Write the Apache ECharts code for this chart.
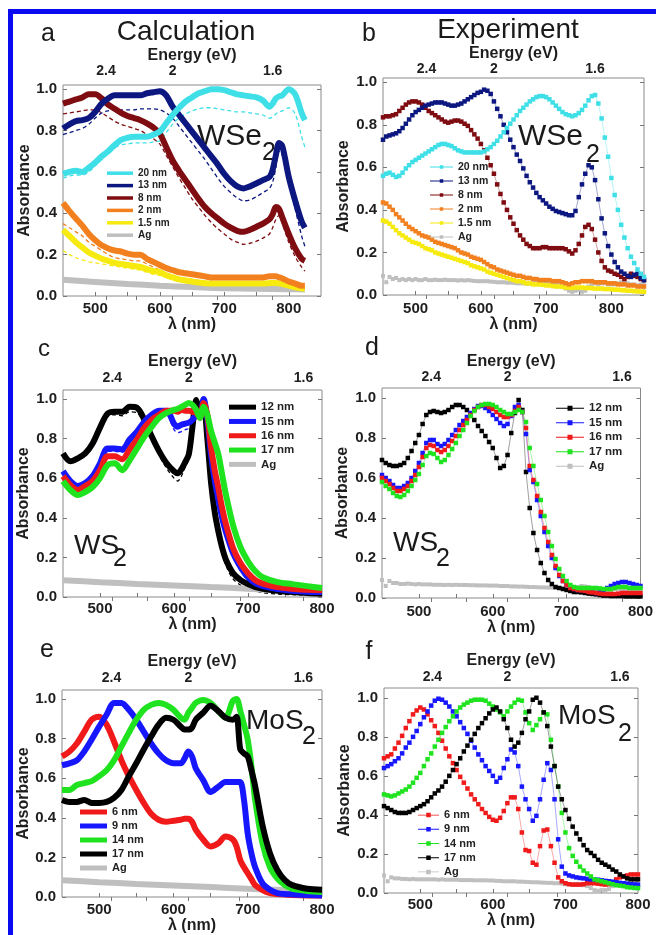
<!DOCTYPE html>
<html><head><meta charset="utf-8">
<script src="https://cdn.jsdelivr.net/npm/echarts@6/dist/echarts.min.js"></script>
<style>html,body{margin:0;padding:0;background:#fff}#c{width:656px;height:935px}</style>
</head><body><div id="c"></div>
<script>
// ---------- tick labels ----------
const yTicks = [0, 0.2, 0.4, 0.6, 0.8, 1.0];
const xTicksLabel = [500, 600, 700, 800];
const xTicksMinor = [550, 650, 750];
const energyTicks = [2.4, 2, 1.6];
const energyMinor = [2.2, 1.8];

// ---------- panel a (calculation, WSe2) ----------
const wlA = [450,460,470,480,490,500,510,520,530,540,550,560,570,580,590,600,610,620,630,640,650,660,670,680,690,700,710,720,730,740,750,760,770,775,780,785,790,800,810,820,825];
const a20 = [.59,.60,.605,.60,.62,.645,.675,.70,.73,.755,.765,.77,.77,.77,.78,.795,.835,.875,.91,.94,.96,.98,.99,1.0,1.0,.995,.985,.975,.97,.965,.96,.945,.915,.93,.955,.965,.97,1.0,.975,.885,.85];
const a20d = [.57,.58,.585,.585,.60,.63,.66,.69,.715,.73,.735,.74,.74,.74,.745,.75,.79,.83,.86,.88,.895,.905,.91,.91,.905,.90,.895,.89,.89,.885,.88,.875,.86,.865,.88,.89,.895,.91,.88,.77,.72];
const a13 = [.81,.83,.845,.85,.86,.89,.93,.955,.97,.97,.97,.97,.97,.98,.985,.99,.97,.915,.875,.835,.795,.755,.715,.675,.635,.59,.555,.53,.52,.53,.545,.56,.575,.61,.68,.74,.725,.575,.46,.36,.33];
const a13d = [.78,.79,.80,.81,.83,.86,.885,.895,.90,.90,.90,.90,.905,.905,.905,.90,.885,.86,.82,.78,.74,.70,.66,.615,.57,.53,.50,.475,.46,.465,.48,.50,.52,.55,.62,.70,.68,.55,.42,.29,.24];
const a8 = [.93,.94,.95,.96,.975,.975,.955,.925,.905,.885,.87,.86,.85,.835,.815,.785,.72,.655,.605,.56,.515,.47,.43,.40,.375,.35,.33,.315,.31,.32,.335,.35,.37,.395,.43,.42,.38,.30,.23,.18,.17];
const a8d = [.88,.885,.89,.895,.90,.90,.885,.865,.845,.83,.82,.81,.80,.78,.76,.735,.68,.625,.57,.52,.47,.43,.39,.355,.325,.30,.275,.26,.25,.255,.265,.28,.30,.33,.37,.39,.35,.26,.19,.14,.12];
const a2 = [.45,.41,.375,.34,.30,.27,.245,.23,.22,.215,.205,.20,.20,.18,.165,.15,.135,.125,.115,.11,.105,.10,.095,.09,.09,.09,.09,.09,.09,.09,.09,.09,.095,.095,.095,.09,.085,.07,.06,.05,.05];
const a2d = [.35,.33,.31,.29,.26,.24,.22,.20,.185,.18,.175,.17,.17,.155,.14,.125,.11,.10,.09,.085,.08,.075,.07,.07,.065,.065,.065,.065,.065,.065,.065,.065,.07,.07,.072,.07,.065,.055,.048,.04,.04];
const a15 = [.32,.29,.26,.235,.21,.195,.18,.17,.16,.155,.15,.145,.14,.13,.12,.115,.10,.09,.08,.075,.07,.065,.062,.06,.06,.06,.06,.06,.06,.06,.06,.06,.062,.063,.063,.062,.058,.05,.042,.037,.035];
const a15d = [.22,.20,.185,.175,.165,.16,.155,.15,.145,.14,.135,.13,.125,.115,.105,.10,.09,.08,.07,.065,.06,.055,.052,.05,.05,.05,.05,.05,.05,.05,.05,.05,.05,.052,.053,.052,.048,.04,.035,.03,.03];
const wlAgA = [450,500,550,600,650,700,750,800,825];
const aAg = [.078,.068,.058,.05,.043,.038,.035,.033,.032];

// ---------- panel b (experiment, WSe2) ----------
const wlB = [450,455,460,465,470,475,480,485,490,495,500,505,510,515,520,525,530,535,540,545,550,555,560,565,570,575,580,585,590,595,600,605,610,615,620,625,630,635,640,645,650,655,660,665,670,675,680,685,690,695,700,705,710,715,720,725,730,735,740,745,750,755,760,765,770,775,780,785,790,795,800,805,810,815,820,825,830,835,840,845,850];
const b20 = [.56,.57,.575,.565,.555,.56,.575,.595,.61,.625,.635,.645,.655,.665,.675,.685,.695,.705,.71,.71,.705,.70,.69,.68,.675,.67,.67,.67,.67,.67,.67,.675,.685,.695,.71,.725,.745,.765,.785,.805,.825,.845,.865,.88,.895,.91,.92,.93,.935,.935,.93,.92,.905,.89,.875,.86,.85,.845,.84,.845,.855,.87,.89,.915,.935,.94,.90,.83,.74,.65,.55,.47,.40,.33,.27,.22,.18,.15,.12,.10,.085];
const b13 = [.73,.745,.75,.755,.76,.77,.785,.805,.825,.845,.86,.87,.88,.89,.895,.90,.905,.905,.905,.90,.895,.89,.89,.895,.90,.91,.92,.93,.94,.95,.955,.965,.96,.945,.91,.875,.84,.80,.765,.73,.695,.66,.63,.595,.56,.53,.505,.48,.46,.445,.43,.415,.405,.395,.39,.385,.38,.375,.375,.395,.46,.52,.57,.61,.60,.54,.45,.36,.29,.23,.19,.155,.13,.11,.10,.09,.085,.095,.10,.08,.07];
const b8 = [.835,.84,.84,.845,.85,.865,.88,.895,.905,.91,.91,.905,.895,.88,.865,.855,.845,.835,.825,.815,.81,.815,.82,.82,.815,.805,.795,.775,.755,.735,.71,.68,.645,.61,.57,.52,.475,.435,.40,.365,.335,.305,.28,.26,.24,.23,.22,.22,.22,.225,.225,.22,.22,.22,.22,.22,.215,.205,.195,.21,.24,.28,.32,.33,.31,.26,.20,.16,.13,.115,.11,.10,.095,.085,.075,.085,.10,.09,.085,.075,.07];
const b2 = [.435,.43,.415,.40,.38,.365,.35,.335,.32,.31,.30,.29,.28,.275,.27,.26,.25,.245,.24,.235,.23,.225,.22,.21,.20,.195,.19,.18,.175,.17,.165,.155,.145,.135,.13,.12,.115,.11,.105,.10,.095,.09,.09,.085,.08,.08,.075,.075,.07,.07,.07,.07,.065,.065,.065,.06,.055,.05,.055,.06,.06,.065,.065,.065,.065,.06,.06,.06,.06,.055,.055,.055,.05,.05,.05,.045,.045,.045,.04,.04,.04];
const b15 = [.35,.345,.335,.32,.305,.29,.28,.27,.26,.25,.245,.24,.23,.22,.215,.21,.20,.195,.19,.185,.18,.175,.17,.165,.16,.155,.15,.14,.135,.13,.125,.12,.11,.105,.10,.095,.09,.085,.08,.075,.07,.065,.065,.06,.055,.055,.05,.05,.05,.048,.045,.045,.042,.04,.04,.038,.035,.035,.033,.035,.035,.035,.033,.033,.032,.03,.03,.03,.028,.028,.027,.025,.025,.023,.022,.02,.02,.018,.017,.016,.015];
const bAg = [.09,.06,.085,.075,.08,.07,.075,.07,.075,.07,.075,.07,.07,.075,.07,.07,.072,.07,.07,.072,.07,.07,.07,.068,.07,.068,.07,.068,.066,.065,.065,.065,.065,.063,.062,.06,.06,.06,.058,.058,.057,.055,.055,.055,.053,.053,.055,.06,.058,.06,.062,.06,.058,.055,.05,.04,.03,.02,.015,.02,.025,.015,.02,.04,.05,.055,.05,.055,.055,.05,.05,.05,.055,.06,.06,.055,.05,.05,.045,.05,.045];

// ---------- panel c (calculation, WS2) ----------
const wlC = [450,460,470,480,490,500,510,520,530,540,550,560,570,580,590,600,605,610,615,620,625,630,635,640,645,650,655,660,665,670,680,690,700,710,720,740,760,780,800];
const c12 = [.725,.685,.70,.725,.775,.855,.925,.935,.935,.96,.955,.895,.81,.735,.675,.635,.625,.645,.68,.72,.86,.995,.945,.96,.80,.58,.43,.33,.25,.19,.12,.085,.065,.05,.042,.032,.025,.02,.017];
const c12d = [.71,.675,.69,.715,.765,.845,.91,.92,.915,.935,.93,.87,.79,.715,.65,.60,.585,.61,.655,.70,.84,.97,.93,.94,.78,.56,.40,.30,.22,.16,.09,.06,.04,.03,.022,.015,.012,.01,.01];
const c15 = [.635,.585,.56,.575,.61,.675,.75,.75,.745,.795,.835,.885,.92,.94,.94,.875,.86,.87,.875,.88,.895,.92,.91,1.0,.90,.72,.59,.49,.40,.33,.22,.15,.10,.07,.055,.04,.032,.027,.025];
const c15d = [.62,.575,.55,.565,.60,.665,.735,.735,.73,.78,.82,.865,.90,.92,.92,.845,.83,.835,.845,.85,.87,.90,.89,.98,.88,.70,.57,.47,.38,.31,.20,.13,.08,.05,.035,.022,.016,.012,.01];
const c16 = [.61,.565,.54,.56,.585,.64,.71,.71,.695,.745,.795,.855,.895,.92,.94,.94,.935,.945,.94,.94,.935,.93,.905,.98,.92,.76,.64,.55,.45,.37,.245,.17,.12,.085,.068,.05,.042,.036,.034];
const c17 = [.585,.54,.515,.53,.555,.60,.665,.675,.64,.69,.75,.81,.86,.905,.93,.945,.95,.96,.97,.98,.97,.945,.905,.96,.92,.84,.78,.72,.62,.52,.36,.25,.18,.13,.10,.075,.065,.055,.045];
const wlAgC = [450,500,550,600,650,700,750,800];
const cAg = [.085,.075,.066,.058,.05,.042,.032,.024];

// ---------- panels d, f (experiment) ----------
const wlDF = [450,455,460,465,470,475,480,485,490,495,500,505,510,515,520,525,530,535,540,545,550,555,560,565,570,575,580,585,590,595,600,605,610,615,620,625,630,635,640,645,650,655,660,665,670,675,680,685,690,695,700,705,710,715,720,725,730,735,740,745,750,755,760,765,770,775,780,785,790,795,800];
const d12 = [.69,.675,.665,.66,.66,.665,.675,.70,.735,.775,.815,.87,.915,.93,.935,.93,.925,.93,.94,.955,.965,.965,.955,.94,.915,.89,.86,.835,.81,.78,.75,.70,.65,.66,.715,.825,.925,.99,.94,.63,.45,.325,.24,.175,.125,.09,.07,.055,.05,.045,.04,.035,.03,.03,.028,.025,.022,.02,.018,.015,.012,.012,.01,.01,.01,.01,.008,.008,.008,.008,.008];
const d15 = [.615,.60,.585,.565,.55,.55,.56,.575,.60,.635,.675,.725,.775,.79,.79,.77,.76,.77,.79,.815,.84,.865,.885,.905,.925,.945,.96,.96,.95,.935,.915,.895,.875,.86,.87,.91,.955,.965,.93,.82,.64,.58,.49,.41,.33,.26,.20,.15,.11,.085,.065,.055,.045,.04,.04,.04,.035,.03,.025,.03,.04,.05,.06,.07,.075,.08,.08,.075,.07,.065,.06];
const d16 = [.60,.585,.57,.55,.535,.535,.545,.56,.585,.615,.655,.705,.75,.765,.76,.74,.73,.74,.76,.785,.81,.84,.865,.89,.915,.94,.955,.965,.965,.955,.945,.93,.915,.905,.905,.915,.935,.955,.93,.85,.66,.59,.51,.43,.35,.28,.215,.16,.115,.085,.065,.05,.045,.04,.038,.035,.03,.028,.025,.022,.02,.02,.02,.02,.022,.025,.025,.025,.025,.025,.025];
const d17 = [.58,.56,.545,.525,.51,.505,.515,.535,.56,.59,.62,.665,.71,.725,.72,.70,.68,.69,.715,.745,.775,.81,.84,.875,.91,.935,.955,.965,.97,.97,.965,.955,.94,.93,.92,.92,.93,.94,.93,.88,.75,.66,.57,.49,.41,.33,.26,.195,.145,.11,.085,.065,.055,.05,.05,.05,.05,.05,.05,.048,.045,.045,.045,.05,.055,.055,.055,.05,.05,.05,.05];
const dAg = [.09,.06,.085,.075,.075,.07,.07,.072,.07,.068,.07,.068,.068,.068,.066,.066,.066,.065,.066,.065,.066,.065,.065,.065,.064,.064,.063,.063,.063,.062,.062,.062,.06,.06,.06,.058,.058,.057,.057,.056,.055,.055,.054,.053,.053,.052,.052,.05,.05,.048,.045,.045,.048,.055,.06,.058,.055,.04,.03,.025,.03,.035,.04,.045,.045,.045,.04,.04,.04,.04,.04];
const f6 = [.69,.70,.71,.74,.77,.805,.845,.88,.915,.935,.95,.94,.915,.885,.855,.82,.78,.74,.70,.665,.63,.595,.565,.535,.505,.48,.455,.43,.41,.39,.375,.37,.385,.42,.46,.49,.49,.43,.31,.22,.215,.155,.145,.24,.32,.325,.24,.155,.08,.06,.05,.045,.043,.043,.043,.045,.05,.05,.05,.048,.045,.043,.045,.055,.07,.08,.085,.09,.095,.095,.095];
const f9 = [.64,.65,.66,.675,.69,.715,.745,.77,.80,.83,.865,.90,.93,.96,.985,.995,.99,.975,.955,.93,.905,.875,.845,.815,.78,.745,.71,.68,.65,.625,.60,.57,.59,.64,.685,.735,.72,.65,.545,.48,.43,.37,.395,.48,.58,.665,.63,.48,.275,.135,.10,.09,.085,.08,.077,.075,.072,.07,.07,.068,.065,.062,.06,.058,.055,.052,.05,.048,.045,.044,.043];
const f14 = [.505,.50,.495,.50,.51,.52,.53,.545,.565,.59,.615,.65,.685,.715,.75,.785,.82,.85,.88,.905,.93,.95,.965,.975,.985,.99,.99,.99,.985,.97,.955,.94,.925,.905,.93,.955,.975,.99,.985,.925,.87,.835,.86,.89,.925,.915,.785,.65,.545,.41,.31,.23,.19,.16,.135,.115,.10,.085,.07,.065,.06,.055,.05,.045,.04,.038,.035,.03,.028,.026,.025];
const f17 = [.445,.435,.425,.415,.41,.41,.41,.415,.425,.435,.445,.455,.47,.49,.51,.525,.545,.57,.60,.63,.66,.69,.725,.755,.785,.815,.845,.87,.895,.92,.94,.95,.93,.89,.845,.785,.75,.77,.82,.89,.93,.99,1.0,.975,.925,.855,.75,.65,.545,.48,.425,.38,.34,.305,.275,.245,.22,.205,.19,.17,.155,.145,.135,.12,.11,.095,.085,.075,.07,.07,.07];
const fAg = [.09,.06,.08,.075,.075,.072,.072,.07,.072,.07,.07,.07,.07,.07,.07,.068,.07,.068,.068,.068,.068,.066,.066,.066,.066,.065,.065,.065,.065,.064,.064,.062,.062,.06,.06,.06,.06,.058,.058,.057,.056,.055,.055,.054,.053,.052,.052,.05,.05,.048,.045,.045,.045,.045,.045,.04,.035,.025,.015,.012,.015,.015,.02,.035,.04,.04,.04,.04,.04,.04,.04];

// ---------- panel e (calculation, MoS2) ----------
const wlE = [450,460,470,480,490,500,510,520,530,540,550,560,570,580,590,600,610,615,620,625,630,640,650,660,670,680,685,690,695,700,705,710,720,730,740,750,760,780,800];
const e6 = [.71,.735,.775,.835,.895,.91,.87,.785,.69,.61,.54,.475,.42,.39,.38,.385,.39,.395,.395,.38,.34,.29,.255,.27,.305,.29,.255,.185,.15,.12,.09,.06,.035,.02,.015,.013,.01,.008,.008];
const e9 = [.665,.675,.69,.735,.795,.86,.92,.98,.98,.945,.895,.835,.775,.725,.69,.675,.675,.70,.735,.71,.65,.59,.53,.555,.58,.58,.58,.58,.49,.32,.22,.15,.068,.037,.02,.015,.013,.01,.008];
const e14 = [.54,.54,.565,.575,.585,.61,.64,.69,.76,.83,.895,.945,.97,.98,.97,.945,.905,.895,.93,.955,.98,.995,.98,.94,.905,.99,1.0,.94,.87,.795,.66,.49,.27,.15,.093,.06,.042,.03,.025];
const e17 = [.49,.48,.48,.49,.475,.475,.48,.50,.54,.61,.675,.745,.81,.87,.905,.895,.86,.845,.845,.855,.895,.93,.965,.94,.905,.895,.91,.745,.725,.71,.64,.56,.36,.22,.135,.085,.06,.042,.037];
const wlAgE = [450,500,550,600,650,700,750,800];
const eAg = [.085,.075,.066,.058,.05,.042,.035,.03];

// ---------- colours ----------
const COL = {cyan:'#3fdfe8', navy:'#0c1780', maroon:'#7e0c10', orange:'#f3801f', yellow:'#f6ea0e', ag:'#bfbfbf',
             black:'#000000', blue:'#1717ff', red:'#f01a1a', green:'#1fe31f'};

const FONT = 'Liberation Sans, Arial, sans-serif';

// ---------- panels (layout + which arrays go where) ----------
const panels = [
  {grid:{left:63, top:85, width:258, height:211}, xmax:850, ymax:1.02, tm:7, bm:5, tg:21, bg:21, yg:30,
   legend:{left:107, top:167, row:12.4, fs:10, iw:26, ih:3.5, exp:false},
   series:[
    {n:'20 nm', wl:wlA, v:a20d, c:COL.cyan, k:'dash'},
    {n:'13 nm', wl:wlA, v:a13d, c:COL.navy, k:'dash'},
    {n:'8 nm', wl:wlA, v:a8d, c:COL.maroon, k:'dash'},
    {n:'2 nm', wl:wlA, v:a2d, c:COL.orange, k:'dash'},
    {n:'1.5 nm', wl:wlA, v:a15d, c:COL.yellow, k:'dash'},
    {n:'Ag', wl:wlAgA, v:aAg, c:COL.ag, k:'calc'},
    {n:'1.5 nm', wl:wlA, v:a15, c:COL.yellow, k:'calc'},
    {n:'2 nm', wl:wlA, v:a2, c:COL.orange, k:'calc'},
    {n:'8 nm', wl:wlA, v:a8, c:COL.maroon, k:'calc'},
    {n:'13 nm', wl:wlA, v:a13, c:COL.navy, k:'calc'},
    {n:'20 nm', wl:wlA, v:a20, c:COL.cyan, k:'calc'}],
   order:['20 nm','13 nm','8 nm','2 nm','1.5 nm','Ag']},
  {grid:{left:383, top:78, width:261, height:217}, xmax:850, ymax:1.02, tm:2, bm:6, tg:14, bg:21, yg:31,
   legend:{left:430, top:160, row:14, fs:10.5, iw:23, ih:3.5, exp:true},
   series:[
    {n:'Ag', wl:wlB, v:bAg, c:COL.ag, k:'exp', ss:4},
    {n:'1.5 nm', wl:wlB, v:b15, c:COL.yellow, k:'exp'},
    {n:'2 nm', wl:wlB, v:b2, c:COL.orange, k:'exp'},
    {n:'8 nm', wl:wlB, v:b8, c:COL.maroon, k:'exp'},
    {n:'13 nm', wl:wlB, v:b13, c:COL.navy, k:'exp'},
    {n:'20 nm', wl:wlB, v:b20, c:COL.cyan, k:'exp'}],
   order:['20 nm','13 nm','8 nm','2 nm','1.5 nm','Ag']},
  {grid:{left:63, top:390, width:259, height:207}, xmax:800, ymax:1.045, tm:5, bm:4, tg:20, bg:19, yg:31,
   legend:{left:229, top:400, row:14.3, fs:11.5, iw:27, ih:5, exp:false},
   series:[
    {n:'12 nm', wl:wlC, v:c12d, c:COL.black, k:'dash'},
    {n:'15 nm', wl:wlC, v:c15d, c:COL.blue, k:'dash'},
    {n:'Ag', wl:wlAgC, v:cAg, c:COL.ag, k:'calc'},
    {n:'12 nm', wl:wlC, v:c12, c:COL.black, k:'calc'},
    {n:'15 nm', wl:wlC, v:c15, c:COL.blue, k:'calc'},
    {n:'16 nm', wl:wlC, v:c16, c:COL.red, k:'calc'},
    {n:'17 nm', wl:wlC, v:c17, c:COL.green, k:'calc'}],
   order:['12 nm','15 nm','16 nm','17 nm','Ag']},
  {grid:{left:382, top:388, width:261, height:210}, xmax:800, ymax:1.05, tm:4, bm:6, tg:18, bg:20, yg:31,
   legend:{left:556, top:401, row:14.5, fs:11.5, iw:28, ih:5, exp:true},
   series:[
    {n:'Ag', wl:wlDF, v:dAg, c:COL.ag, k:'exp', ss:4},
    {n:'12 nm', wl:wlDF, v:d12, c:COL.black, k:'exp'},
    {n:'15 nm', wl:wlDF, v:d15, c:COL.blue, k:'exp'},
    {n:'16 nm', wl:wlDF, v:d16, c:COL.red, k:'exp'},
    {n:'17 nm', wl:wlDF, v:d17, c:COL.green, k:'exp'}],
   order:['12 nm','15 nm','16 nm','17 nm','Ag']},
  {grid:{left:62, top:690, width:260, height:207}, xmax:800, ymax:1.045, tm:5, bm:5, tg:20, bg:18, yg:30,
   legend:{left:80, top:805, row:14, fs:11, iw:27, ih:5, exp:false},
   series:[
    {n:'Ag', wl:wlAgE, v:eAg, c:COL.ag, k:'calc'},
    {n:'6 nm', wl:wlE, v:e6, c:COL.red, k:'calc'},
    {n:'9 nm', wl:wlE, v:e9, c:COL.blue, k:'calc'},
    {n:'14 nm', wl:wlE, v:e14, c:COL.green, k:'calc'},
    {n:'17 nm', wl:wlE, v:e17, c:COL.black, k:'calc'}],
   order:['6 nm','9 nm','14 nm','17 nm','Ag']},
  {grid:{left:384, top:688, width:254, height:205}, xmax:800, ymax:1.05, tm:4, bm:4, tg:19, bg:17, yg:31,
   legend:{left:418, top:808, row:14.2, fs:11, iw:21, ih:4.5, exp:true},
   series:[
    {n:'Ag', wl:wlDF, v:fAg, c:COL.ag, k:'exp', ss:4},
    {n:'6 nm', wl:wlDF, v:f6, c:COL.red, k:'exp'},
    {n:'9 nm', wl:wlDF, v:f9, c:COL.blue, k:'exp'},
    {n:'14 nm', wl:wlDF, v:f14, c:COL.green, k:'exp'},
    {n:'17 nm', wl:wlDF, v:f17, c:COL.black, k:'exp'}],
   order:['6 nm','9 nm','14 nm','17 nm','Ag']}
];

const grids = [], xAxes = [], yAxes = [], series = [], legends = [];
const tickLbl = {fontFamily:FONT, fontWeight:'bold', color:'#1e1e1e'};
const nameTs = {fontFamily:FONT, fontWeight:'bold', fontSize:16, color:'#1e1e1e'};

function expIcon(w, h) {
  // thin connecting line with a small square in the middle
  const t = 0.45, cx = w / 2, s = h / 2;
  return 'path://M0,' + (s - t) + 'L' + w + ',' + (s - t) + 'L' + w + ',' + (s + t) + 'L0,' + (s + t) + 'Z' +
         'M' + (cx - s) + ',0L' + (cx + s) + ',0L' + (cx + s) + ',' + h + 'L' + (cx - s) + ',' + h + 'Z';
}

panels.forEach((p, k) => {
  const sfx = ' '.repeat(k);
  grids.push(Object.assign({show:true, borderColor:'#8a8a8a', borderWidth:1, backgroundColor:'transparent'}, p.grid));
  const xAll = xTicksLabel.concat(xTicksMinor).filter(v => v < p.xmax);
  xAxes.push({type:'value', gridIndex:k, position:'bottom', min:450, max:p.xmax,
    name:'\u03bb (nm)', nameLocation:'middle', nameGap:p.bg, nameTextStyle:nameTs,
    axisLine:{show:false}, splitLine:{show:false},
    axisTick:{show:true, inside:true, length:4, customValues:xAll, lineStyle:{color:'#777'}},
    axisLabel:Object.assign({customValues:xTicksLabel, fontSize:15, margin:p.bm}, tickLbl)});
  xAxes.push({type:'value', gridIndex:k, position:'top', min:450, max:p.xmax,
    name:'Energy (eV)', nameLocation:'middle', nameGap:p.tg, nameTextStyle:nameTs,
    axisLine:{show:false}, splitLine:{show:false},
    axisTick:{show:true, inside:true, length:4, customValues:energyTicks.concat(energyMinor).map(e => 1240/e), lineStyle:{color:'#777'}},
    axisLabel:Object.assign({customValues:energyTicks.map(e => 1240/e), fontSize:14, margin:p.tm,
      formatter: v => String(Math.round(12400/v)/10)}, tickLbl)});
  yAxes.push({type:'value', gridIndex:k, position:'left', min:0, max:p.ymax,
    name:'Absorbance', nameLocation:'middle', nameGap:p.yg, nameTextStyle:nameTs,
    axisLine:{show:false}, splitLine:{show:false},
    axisTick:{show:true, inside:true, length:4, customValues:yTicks, lineStyle:{color:'#777'}},
    axisLabel:Object.assign({customValues:yTicks, fontSize:15, margin:6, formatter: v => v.toFixed(1)}, tickLbl)});
  yAxes.push({type:'value', gridIndex:k, position:'right', min:0, max:p.ymax,
    axisLine:{show:false}, splitLine:{show:false}, axisLabel:{show:false},
    axisTick:{show:true, inside:true, length:4, customValues:yTicks, lineStyle:{color:'#777'}}});

  p.series.forEach(s => {
    const base = {type:'line', xAxisIndex:2*k, yAxisIndex:2*k, silent:true, animation:false,
      data:s.wl.map((w, i) => [w, s.v[i]])};
    if (s.k === 'dash') {
      Object.assign(base, {name:s.n + sfx + '#d', symbol:'none', smooth:0.3,
        lineStyle:{color:s.c, width:1.3, type:[4,3]}, itemStyle:{color:s.c}, z:1});
    } else if (s.k === 'calc') {
      Object.assign(base, {name:s.n + sfx, symbol:'none', smooth:0.3,
        lineStyle:{color:s.c, width:6}, itemStyle:{color:s.c}, z:2});
    } else {
      Object.assign(base, {name:s.n + sfx, symbol:'rect', symbolSize:s.ss || 4.5, showAllSymbol:true,
        lineStyle:{color:s.c, width:0.7, opacity:0.55}, itemStyle:{color:s.c}, z:2});
    }
    series.push(base);
  });

  const L = p.legend;
  legends.push({orient:'vertical', left:L.left, top:L.top, itemWidth:L.iw, itemHeight:L.ih, itemGap:0,
    padding:0, selectedMode:false, symbolKeepAspect:false,
    icon: L.exp ? expIcon(L.iw, L.ih) : 'rect',
    textStyle:{fontFamily:FONT, fontWeight:'bold', fontSize:L.fs, color:'#222', lineHeight:L.row},
    data:p.order.map(n => n + sfx)});
});

// ---------- text overlays ----------
function txt(x, y, s, size, align, weight) {
  return {type:'text', silent:true, style:{x:x, y:y, text:s, fill:'#1a1a1a',
    font:(weight || 'normal') + ' ' + size + 'px ' + FONT, align:align || 'left', verticalAlign:'middle'}};
}
const graphics = [
  {type:'rect', silent:true, shape:{x:8, y:9, width:648, height:5}, style:{fill:'#0a0af0'}},
  {type:'rect', silent:true, shape:{x:8, y:9, width:5, height:926}, style:{fill:'#0a0af0'}},
  txt(186, 32, 'Calculation', 28, 'center'),
  txt(508, 30, 'Experiment', 28, 'center'),
  txt(48, 34, 'a', 25, 'center'),
  txt(369, 34, 'b', 25, 'center'),
  txt(44, 349, 'c', 24, 'center'),
  txt(372, 348, 'd', 25, 'center'),
  txt(47, 650, 'e', 25, 'center'),
  txt(369, 652, 'f', 25, 'center'),
  txt(197, 137, 'WSe', 30), txt(262, 153, '2', 25),
  txt(518, 137, 'WSe', 30), txt(586, 155, '2', 25),
  txt(74, 546, 'WS', 28), txt(113, 559, '2', 25),
  txt(393, 543, 'WS', 28), txt(436, 559, '2', 25),
  txt(246, 721, 'MoS', 28), txt(302, 737, '2', 25),
  txt(558, 716, 'MoS', 28), txt(618, 734, '2', 25)
];

const chart = echarts.init(document.getElementById('c'), null, {renderer:'canvas'});
chart.setOption({animation:false, backgroundColor:'#fff', grid:grids, xAxis:xAxes, yAxis:yAxes,
  series:series, legend:legends, graphic:graphics});
</script></body></html>
